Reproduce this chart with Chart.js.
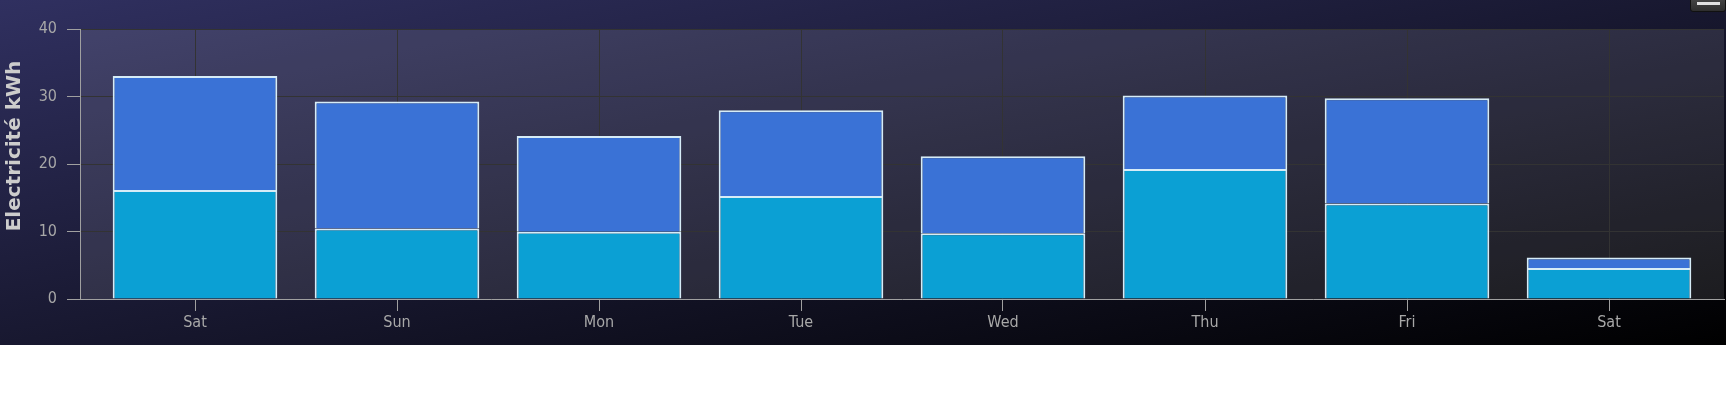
<!DOCTYPE html>
<html><head><meta charset="utf-8">
<script src="https://cdn.jsdelivr.net/npm/chart.js@4/dist/chart.umd.min.js"></script>
<style>
html,body{margin:0;padding:0;background:#fff;}
#wrap{position:absolute;left:0;top:0;width:1726px;height:345px;}
#btn{position:absolute;left:1690px;top:-13px;width:36px;height:25px;border-radius:3px;background:linear-gradient(#5a5a5a,#2e2e2e);border:1px solid #111;box-sizing:border-box;}
#btn i{position:absolute;left:6px;top:14px;width:23px;height:3px;background:#e0e0e0;}
</style></head><body>
<div id="wrap"><canvas id="c" width="1726" height="345"></canvas></div>
<div id="btn"><i></i></div>
<script>
const categories = ['Sat','Sun','Mon','Tue','Wed','Thu','Fri','Sat'];
const lowerValues = [16.15, 10.45, 9.95, 15.25, 9.75, 19.25, 14.15, 4.6];
const upperValues = [16.9, 18.8, 14.2, 12.7, 11.4, 10.9, 15.6, 1.55];
const yTicks = [0, 10, 20, 30, 40];
const yTitle = 'Electricité kWh';

const FAMILY = "'DejaVu Sans Condensed','DejaVu Sans',sans-serif";
const EDGE = 14 / 202;

const bgPlugin = {
  id: 'bg',
  beforeDraw(chart) {
    const ctx = chart.ctx, W = chart.width, H = chart.height;
    const k = 2 * W * H / (W * W + H * H);
    const g = ctx.createLinearGradient(0, 0, k * H, k * W);
    g.addColorStop(0, 'rgb(48,48,96)');
    g.addColorStop(1, 'rgb(0,0,0)');
    ctx.save();
    ctx.fillStyle = g;
    ctx.fillRect(0, 0, W, H);
    const a = chart.chartArea;
    ctx.fillStyle = 'rgba(255,255,255,0.1)';
    ctx.fillRect(a.left, a.top, a.right - a.left, a.bottom - a.top);
    ctx.restore();
  },
  afterDraw(chart) {
    const ctx = chart.ctx;
    ctx.save();
    ctx.translate(15, 146);
    ctx.rotate(-Math.PI / 2);
    ctx.fillStyle = '#CCCCCC';
    ctx.font = "bold 20px 'DejaVu Sans',sans-serif";
    ctx.textAlign = 'center';
    ctx.textBaseline = 'middle';
    ctx.fillText(yTitle, 0, 0);
    ctx.restore();
  }
};

new Chart(document.getElementById('c'), {
  type: 'bar',
  data: {
    datasets: [
      {
        label: 'low',
        data: lowerValues.map((v, i) => ({x: i, y: v})),
        backgroundColor: '#0ba0d4',
        borderColor: '#d6ecf7',
        borderWidth: 2
      },
      {
        label: 'high',
        data: upperValues.map((v, i) => ({x: i, y: v})),
        backgroundColor: '#3a72d6',
        borderColor: '#d6ecf7',
        borderWidth: 2
      }
    ]
  },
  options: {
    responsive: false,
    animation: false,
    devicePixelRatio: 1,
    barPercentage: 0.815,
    categoryPercentage: 1.0,
    layout: {padding: {top: 29, right: 2, left: 0, bottom: 0}},
    plugins: {legend: {display: false}, tooltip: {enabled: false}, title: {display: false}},
    scales: {
      x: {
        type: 'linear',
        stacked: true,
        offset: false,
        min: -0.5 - EDGE,
        max: categories.length - 0.5 + EDGE,
        afterBuildTicks: s => { s.ticks = categories.map((_, i) => ({value: i})); },
        afterFit: s => { s.height = 46; },
        grid: {color: '#333333', lineWidth: 1, offset: false, drawTicks: true, tickLength: 12, tickColor: '#A0A0A0', tickWidth: 1},
        border: {display: true, color: '#A0A0A0', width: 1},
        ticks: {autoSkip: false, maxRotation: 0, color: '#A8A8A8', font: {family: FAMILY, size: 16}, padding: 2,
                callback: v => categories[v]}
      },
      y: {
        stacked: true,
        min: yTicks[0],
        max: yTicks[yTicks.length - 1],
        afterBuildTicks: s => { s.ticks = yTicks.map(v => ({value: v})); },
        afterFit: s => { s.width = 80; },
        grid: {color: '#333333', lineWidth: 1, drawTicks: true, tickLength: 13, tickColor: '#A0A0A0', tickWidth: 1},
        border: {display: true, color: '#A0A0A0', width: 1},
        ticks: {color: '#A8A8A8', font: {family: FAMILY, size: 16}, padding: 10},
        title: {display: false, text: yTitle}
      }
    }
  },
  plugins: [bgPlugin]
});
</script>
</body></html>
